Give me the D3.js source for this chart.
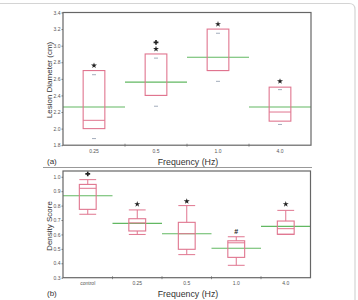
<!DOCTYPE html>
<html><head><meta charset="utf-8">
<script src="https://cdn.jsdelivr.net/npm/d3@7"></script>
<style>body{margin:0;background:#fff}svg{display:block;font-family:"Liberation Sans",Arial,sans-serif}</style>
</head><body><svg id="c" width="358" height="300"></svg>
<script>
// Panel (a)
const catsA = ["0.25","0.5","1.0","4.0"];
const q1A = [2.0, 2.4, 2.7, 2.09];
const q3A = [2.7, 2.9, 3.2, 2.5];
const medA = [2.1, 2.4, 2.7, 2.2];
const hiA = [2.65, 2.85, 3.15, 2.47];
const loA = [1.88, 2.27, 2.57, 2.05];
const meanA = [2.26, 2.56, 2.86, 2.26];
const marksA = [["*",2.76],["+",3.04],["*",2.96],["*",3.26],["*",2.57]];
const markCatA = ["0.25","0.5","0.5","1.0","4.0"];
const ticksA = [1.8,2.0,2.2,2.4,2.6,2.8,3.0,3.2,3.4];
// Panel (b)
const catsB = ["control","0.25","0.5","1.0","4.0"];
const q1B = [0.774, 0.624, 0.497, 0.441, 0.601];
const q3B = [0.947, 0.709, 0.684, 0.556, 0.693];
const medB = [0.92, 0.68, 0.605, 0.542, 0.64];
const hiB = [0.98, 0.77, 0.80, 0.584, 0.767];
const loB = [0.74, 0.60, 0.46, 0.386, 0.601];
const meanB = [0.868, 0.677, 0.605, 0.504, 0.656];
const marksB = [["+",1.02],["*",0.81],["*",0.83],["#",0.62],["*",0.81]];
const ticksB = [0.3,0.4,0.5,0.6,0.7,0.8,0.9,1.0];

const svg = d3.select("#c");
const BOX = "#e0758f", GREEN = "#62b862", FRAME = "#666";

// outer figure frame
svg.append("path").attr("d","M0,3.5 H349 Q355,3.5 355,9.5 V300")
  .attr("fill","none").attr("stroke","#d4d4d4").attr("stroke-width",1.2);

function panel(o){
  const g = svg.append("g");
  const x = d3.scaleBand().domain(o.cats).range([o.x0,o.x1]);
  const y = d3.scaleLinear().domain(o.dom).range([o.y1,o.y0]);
  const ya = g.append("g").attr("transform",`translate(${o.x0},0)`)
    .call(d3.axisLeft(y).tickValues(o.ticks).tickFormat(d3.format(".1f")).tickSize(1.5).tickPadding(1));
  ya.select(".domain").remove();
  ya.selectAll("line").attr("stroke","#777");
  ya.selectAll("text").attr("font-size",5).attr("fill","#555");
  const xa = g.append("g").attr("transform",`translate(0,${o.y1})`)
    .call(d3.axisBottom(x).tickSize(0).tickPadding(4));
  xa.select(".domain").remove();
  xa.selectAll("text").attr("font-size",5).attr("fill","#555");
  o.cats.slice(1).forEach(c=>{
    g.append("line").attr("x1",x(c)).attr("x2",x(c)).attr("y1",o.y1-1.5).attr("y2",o.y1+1.5)
      .attr("stroke","#777").attr("stroke-width",0.8);
  });
  const bw = x.bandwidth()*o.boxFrac;
  o.cats.forEach((c,i)=>{
    const cx = x(c)+x.bandwidth()/2;
    g.append("line").attr("x1",x(c)).attr("x2",x(c)+x.bandwidth())
      .attr("y1",y(o.mean[i])).attr("y2",y(o.mean[i])).attr("stroke",GREEN).attr("stroke-width",1.1);
    if(o.whisk){
      g.append("line").attr("x1",cx).attr("x2",cx).attr("y1",y(o.hi[i])).attr("y2",y(o.q3[i])).attr("stroke",BOX).attr("stroke-width",1);
      g.append("line").attr("x1",cx).attr("x2",cx).attr("y1",y(o.lo[i])).attr("y2",y(o.q1[i])).attr("stroke",BOX).attr("stroke-width",1);
      [o.hi[i],o.lo[i]].forEach(v=>g.append("line").attr("x1",cx-bw/2).attr("x2",cx+bw/2)
        .attr("y1",y(v)).attr("y2",y(v)).attr("stroke",BOX).attr("stroke-width",1));
    } else {
      [o.hi[i],o.lo[i]].forEach(v=>g.append("line").attr("x1",cx-2).attr("x2",cx+2)
        .attr("y1",y(v)).attr("y2",y(v)).attr("stroke","#9aa4b4").attr("stroke-width",0.9));
    }
    g.append("rect").attr("x",cx-bw/2).attr("width",bw).attr("y",y(o.q3[i]))
      .attr("height",y(o.q1[i])-y(o.q3[i])).attr("fill","none").attr("stroke",BOX).attr("stroke-width",1.1);
    g.append("line").attr("x1",cx-bw/2).attr("x2",cx+bw/2).attr("y1",y(o.med[i])).attr("y2",y(o.med[i]))
      .attr("stroke",BOX).attr("stroke-width",1);
  });
  o.marks.forEach((m,i)=>{
    const c = o.markCat[i];
    const cx = x(c)+x.bandwidth()/2, cy = y(m[1]);
    if(m[0]==="#"){
      g.append("text").attr("x",cx).attr("y",cy+2.5).attr("text-anchor","middle")
        .attr("font-size",7).attr("font-weight","bold").attr("fill","#222").text("#");
    } else {
      g.append("path").attr("transform",`translate(${cx},${cy})`)
        .attr("d",d3.symbol().type(m[0]==="+"?d3.symbolCross:d3.symbolStar).size(m[0]==="+"?13:11)())
        .attr("fill","#222");
    }
  });
  g.append("rect").attr("x",o.x0).attr("y",o.y0).attr("width",o.x1-o.x0).attr("height",o.y1-o.y0)
    .attr("fill","none").attr("stroke",FRAME).attr("stroke-width",1.2);
  g.append("text").attr("transform",`translate(${o.tx},${o.ty}) rotate(-90)`)
    .attr("text-anchor","middle").attr("font-size",8).attr("fill","#333").text(o.title);
  g.append("text").attr("x",47).attr("y",o.labY).attr("font-size",8).attr("fill","#333").text(o.lab);
  g.append("text").attr("x",188).attr("y",o.labY+1).attr("text-anchor","middle").attr("font-size",8.8).attr("fill","#333").text("Frequency (Hz)");
}

panel({cats:catsA,x0:63,x1:311,y0:12.5,y1:145.2,dom:[1.8,3.4],ticks:ticksA,
  q1:q1A,q3:q3A,med:medA,hi:hiA,lo:loA,mean:meanA,marks:marksA,markCat:markCatA,
  whisk:false,boxFrac:0.35,title:"Lesion Diameter (cm)",tx:52,ty:80,lab:"(a)",labY:163.5});

svg.append("line").attr("x1",43).attr("x2",312).attr("y1",167.5).attr("y2",167.5).attr("stroke","#999").attr("stroke-width",1);

panel({cats:catsB,x0:63,x1:310.5,y0:171,y1:277.7,dom:[0.3,1.04],ticks:ticksB,
  q1:q1B,q3:q3B,med:medB,hi:hiB,lo:loB,mean:meanB,marks:marksB,markCat:catsB,
  whisk:true,boxFrac:0.34,title:"Density Score",tx:52,ty:226,lab:"(b)",labY:296});
</script></body></html>
